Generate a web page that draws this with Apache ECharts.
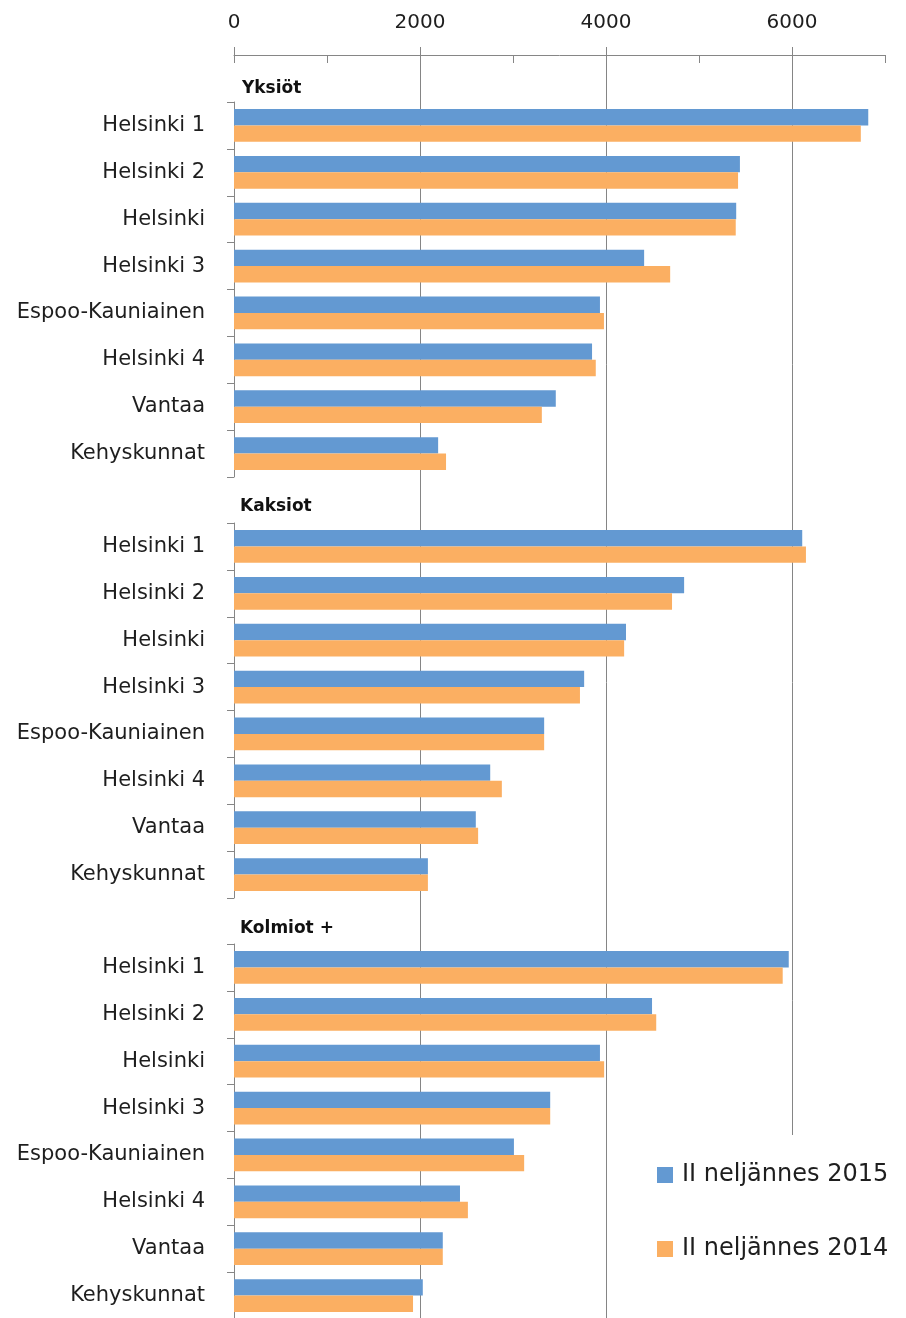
<!DOCTYPE html>
<html><head><meta charset="utf-8">
<script src="https://cdn.jsdelivr.net/npm/echarts@6/dist/echarts.min.js"></script>
<style>html,body{margin:0;padding:0;background:#fff}#c{width:906px;height:1318px}</style>
</head><body><div id="c"></div>
<script>
// ---- data ----
const categories = ['Helsinki 1','Helsinki 2','Helsinki','Helsinki 3','Espoo-Kauniainen','Helsinki 4','Vantaa','Kehyskunnat'];
const groupNames = ['Yksiöt','Kaksiot','Kolmiot +'];
const seriesNames = ['II neljännes 2015','II neljännes 2014'];
const yksiot2015  = [6820, 5440, 5400, 4410, 3935, 3850, 3460, 2195];
const yksiot2014  = [6740, 5420, 5395, 4690, 3978, 3890, 3310, 2280];
const kaksiot2015 = [6110, 4840, 4215, 3765, 3335, 2755, 2600, 2085];
const kaksiot2014 = [6150, 4710, 4195, 3720, 3335, 2880, 2625, 2085];
const kolmiot2015 = [5965, 4495, 3935, 3400, 3010, 2430, 2245, 2030];
const kolmiot2014 = [5900, 4540, 3980, 3400, 3120, 2515, 2245, 1925];
const xTicks = [0, 2000, 4000, 6000];

const groups2015 = [yksiot2015, kaksiot2015, kolmiot2015];
const groups2014 = [yksiot2014, kaksiot2014, kolmiot2014];

// ---- styles ----
const FONT = 'DejaVu Sans';
const BLUE = '#6399D2', ORANGE = '#FBAF62';
const AXIS = '#868686', GRIDC = '#858585', TXT = '#1e1e1e';
const T = 'rgba(0,0,0,0)';
const panelTops = [102, 523, 944];
const panelH = 375;
const headerTops = [80, 498, 920];
const XMAX = 7000;

const chart = echarts.init(document.getElementById('c'), null, {renderer: 'canvas'});

const grids = [], xAxes = [], yAxes = [], series = [];
panelTops.forEach((t, i) => {
  grids.push({left: 234, right: 21, top: t, height: panelH, containLabel: false, outerBoundsMode: 'none'});
  xAxes.push({gridIndex: i, type: 'value', min: 0, max: XMAX, show: false});
  yAxes.push({
    gridIndex: i, type: 'category', data: categories, inverse: true,
    axisLine: {show: true, onZero: false, lineStyle: {color: AXIS, width: 1}},
    axisTick: {show: true, length: 7, alignWithLabel: false, lineStyle: {color: AXIS, width: 1}},
    axisLabel: {fontSize: 21, color: TXT, margin: 29, fontFamily: FONT},
    splitLine: {show: false}
  });
  series.push({
    type: 'bar', name: seriesNames[0], xAxisIndex: i, yAxisIndex: i,
    data: groups2015[i], itemStyle: {color: BLUE},
    barGap: '0%', barCategoryGap: '30%', animation: false
  });
  series.push({
    type: 'bar', name: seriesNames[1], xAxisIndex: i, yAxisIndex: i,
    data: groups2014[i], itemStyle: {color: ORANGE},
    barGap: '0%', barCategoryGap: '30%', animation: false
  });
});

// background grid for vertical gridlines (full height)
grids.push({left: 234, right: 21, top: 47, bottom: 0, containLabel: false, outerBoundsMode: 'none'});
xAxes.push({
  gridIndex: 3, type: 'value', min: 0, max: XMAX, interval: 1000,
  axisLine: {show: false}, axisTick: {show: false}, axisLabel: {show: false},
  splitLine: {show: true, lineStyle: {width: 1, color: [T, T, GRIDC, T, GRIDC, T, GRIDC, T]}}
});
yAxes.push({gridIndex: 3, type: 'value', show: false});

// top axis grid
grids.push({left: 234, right: 21, top: 55, bottom: 0, containLabel: false, outerBoundsMode: 'none'});
xAxes.push({
  gridIndex: 4, type: 'value', position: 'top', min: 0, max: XMAX, interval: 1000,
  axisLine: {show: true, onZero: false, lineStyle: {color: AXIS, width: 1}},
  axisTick: {show: true, inside: true, length: 8, lineStyle: {color: AXIS, width: 1}},
  axisLabel: {
    show: true, fontSize: 20, color: TXT, margin: 22, fontFamily: FONT,
    formatter: v => xTicks.indexOf(v) >= 0 ? String(v) : ''
  },
  splitLine: {show: false}
});
yAxes.push({gridIndex: 4, type: 'value', show: false});

// small grid for the crossing tick at 0
grids.push({left: 234, right: 21, top: 47, height: 8, containLabel: false, outerBoundsMode: 'none'});
xAxes.push({
  gridIndex: 5, type: 'value', min: 0, max: XMAX, interval: 1000,
  axisLine: {show: false}, axisTick: {show: false}, axisLabel: {show: false},
  splitLine: {show: true, lineStyle: {width: 1, color: [AXIS, T, T, T, T, T, T, T]}}
});
yAxes.push({gridIndex: 5, type: 'value', show: false});

const legendText = {fontSize: 24, color: TXT, fontFamily: FONT, lineHeight: 16, padding: [0, 0, 0, 4]};
const legendBase = {
  show: true, orient: 'vertical', left: 645, icon: 'rect', itemWidth: 16, itemHeight: 16,
  backgroundColor: '#fff', selectedMode: false, textStyle: legendText, z: 10
};

const option = {
  animation: false,
  backgroundColor: '#fff',
  title: groupNames.map((g, i) => ({
    text: g, left: i === 0 ? 242 : 240, top: headerTops[i], padding: 0,
    textStyle: {fontSize: 17, fontWeight: 'bold', color: '#111', fontFamily: FONT}
  })),
  legend: [
    Object.assign({}, legendBase, {top: 1135, data: [seriesNames[0]], padding: [28, 40, 30, 12]}),
    Object.assign({}, legendBase, {bottom: 0, data: [seriesNames[1]], padding: [31, 40, 57, 12]})
  ],
  grid: grids,
  xAxis: xAxes,
  yAxis: yAxes,
  series: series
};
chart.setOption(option);
</script>
</body></html>
